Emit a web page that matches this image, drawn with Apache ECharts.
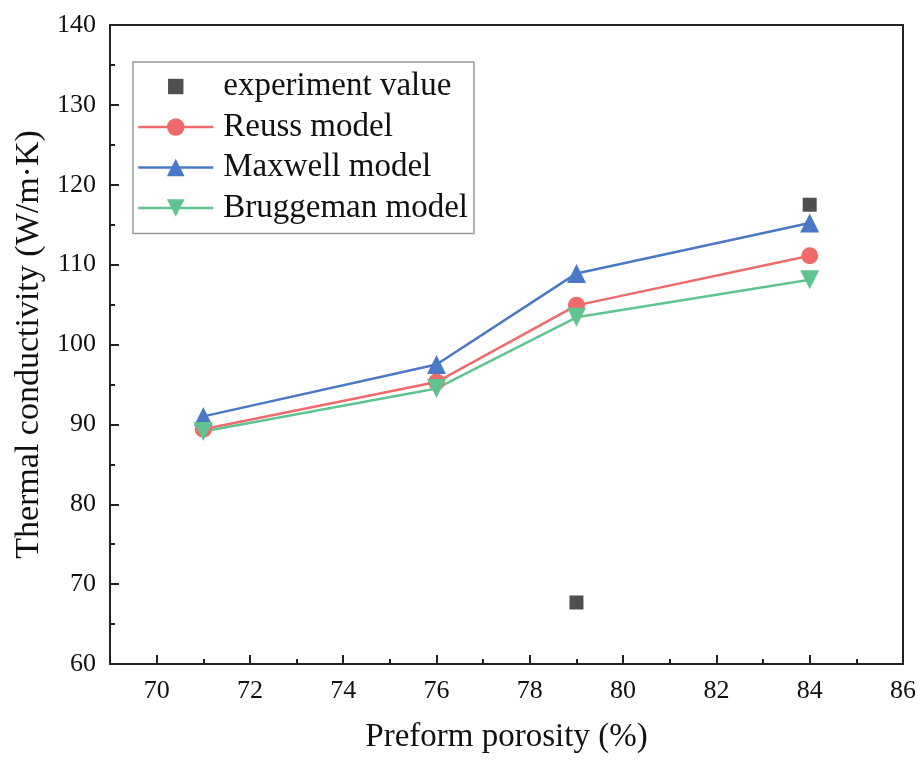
<!DOCTYPE html>
<html><head><meta charset="utf-8">
<script src="https://cdn.jsdelivr.net/npm/echarts@6/dist/echarts.min.js"></script>
<style>html,body{margin:0;padding:0;background:#fff}#c{width:921px;height:760px}</style>
</head><body><div id="c"></div>
<script>
const porosity = [71, 76, 79, 84];
const experiment = [[79, 67.7], [84, 117.5]];
const reuss = [89.4, 95.3, 104.9, 111.1];
const maxwell = [91.0, 97.5, 108.9, 115.2];
const bruggeman = [89.1, 94.5, 103.4, 108.1];
const xMajor = [70, 72, 74, 76, 78, 80, 82, 84, 86];
const xMinor = [71, 73, 75, 77, 79, 81, 83, 85];
const legendNames = ['experiment value', 'Reuss model', 'Maxwell model', 'Bruggeman model'];

const font = 'Liberation Serif';
const pair = (arr) => porosity.map((x, i) => [x, arr[i]]);
const chart = echarts.init(document.getElementById('c'));
const axisLine = {show: true, lineStyle: {color: '#222', width: 2}};
chart.setOption({
  backgroundColor: '#fff',
  animation: false,
  grid: {left: 110, right: 18, top: 25, bottom: 96, containLabel: false},
  legend: {
    orient: 'vertical', left: 133, top: 62,
    padding: [8, 6, 9, 4],
    borderColor: '#999', borderWidth: 1.5,
    itemWidth: 75, itemHeight: 22, itemGap: 7.5,
    symbolKeepAspect: true,
    lineStyle: {width: 2.5},
    textStyle: {fontFamily: font, fontSize: 33, color: '#111', lineHeight: 30, padding: [0, 0, 0, 5]},
    data: [
      {name: legendNames[0], icon: 'path://M0,0M20,20M3,3H17V17H3Z'},
      legendNames[1], legendNames[2], legendNames[3]
    ]
  },
  xAxis: [{
    type: 'value', min: 69, max: 86, interval: 1,
    name: 'Preform porosity (%)', nameLocation: 'middle', nameGap: 57,
    nameTextStyle: {fontFamily: font, fontSize: 33, color: '#111'},
    axisLine: axisLine,
    axisTick: {show: true, inside: true, length: 9, lineStyle: {color: '#222', width: 2}, customValues: xMajor},
    axisLabel: {fontFamily: font, fontSize: 26, color: '#111', margin: 14, customValues: xMajor},
    splitLine: {show: false}
  }, {
    type: 'value', min: 69, max: 86, interval: 1, position: 'bottom',
    axisLine: {show: false},
    axisTick: {show: true, inside: true, length: 5, lineStyle: {color: '#222', width: 2}, customValues: xMinor},
    axisLabel: {show: false},
    splitLine: {show: false}
  }, {
    type: 'value', min: 69, max: 86, position: 'top',
    axisLine: axisLine, axisTick: {show: false}, axisLabel: {show: false}, splitLine: {show: false}
  }],
  yAxis: [{
    type: 'value', min: 60, max: 140, interval: 10,
    name: 'Thermal conductivity (W/m·K)', nameLocation: 'middle', nameGap: 57,
    nameTextStyle: {fontFamily: font, fontSize: 34, color: '#111'},
    axisLine: axisLine,
    axisTick: {show: true, inside: true, length: 9, lineStyle: {color: '#222', width: 2}},
    minorTick: {show: true, splitNumber: 2, length: 5, lineStyle: {color: '#222', width: 2}},
    axisLabel: {fontFamily: font, fontSize: 26, color: '#111', margin: 14},
    splitLine: {show: false}
  }, {
    type: 'value', min: 60, max: 140, position: 'right',
    axisLine: axisLine, axisTick: {show: false}, axisLabel: {show: false}, splitLine: {show: false}
  }],
  series: [
    {name: legendNames[0], type: 'scatter', data: experiment, symbol: 'rect', symbolSize: 14,
     itemStyle: {color: '#4f4f4f', opacity: 1}},
    {name: legendNames[1], type: 'line', data: pair(reuss), symbol: 'circle', symbolSize: 17,
     itemStyle: {color: '#ef6b6b'}, lineStyle: {color: '#ef6b6b', width: 2.5}},
    {name: legendNames[2], type: 'line', data: pair(maxwell), symbol: 'triangle', symbolSize: 19,
     itemStyle: {color: '#4a78c4'}, lineStyle: {color: '#4a78c4', width: 2.5}},
    {name: legendNames[3], type: 'line', data: pair(bruggeman), symbol: 'triangle', symbolRotate: 180, symbolSize: 19,
     itemStyle: {color: '#5fc48f'}, lineStyle: {color: '#5fc48f', width: 2.5}}
  ]
});
</script></body></html>
